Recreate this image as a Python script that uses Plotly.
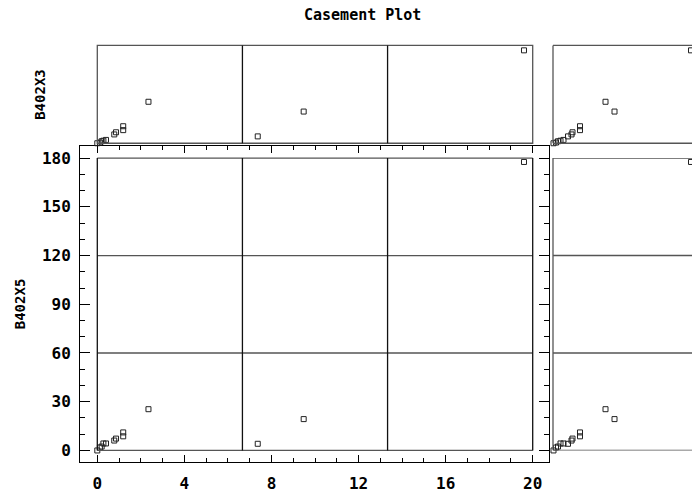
import plotly.graph_objects as go

# ---------------- data ----------------
x_values = [0.0, 0.12, 0.20, 0.28, 0.40, 0.78, 0.86, 1.19, 1.19, 2.35, 7.37, 9.48, 19.60]
b402x5 = [0.0, 1.8, 2.4, 4.3, 4.3, 6.1, 7.3, 11.1, 8.7, 25.4, 4.1, 19.3, 177.6]
b402x3 = [0.0, 0.35, 1.0, 1.3, 1.7, 4.5, 5.6, 8.7, 6.7, 21.2, 3.5, 16.2, 47.5]
x_right = [0.1, 0.6, 1.0, 1.5, 2.1, 3.7, 3.9, 5.4, 5.4, 10.5, 3.0, 12.3, 27.6]

x_ticks = [0, 4, 8, 12, 16, 20]
y_ticks = [0, 30, 60, 90, 120, 150, 180]
x_frame = (0, 20)
y_frame = (0, 180)
top_frame = (0, 50)
right_frame = (0, 27.8)
n_cells = 3

title_text = "Casement Plot"
row_labels = ["B402X3", "B402X5"]

# ---------------- layout helpers ----------------
W, H = 692, 493


def px_x(a, b):
    return [a / W, b / W]


def px_y(top, bottom):
    return [(H - bottom) / H, (H - top) / H]


FONT = "DejaVu Sans Mono"
frame_col = "#555555"
div_col = "#111111"

marker = dict(symbol="square-open", size=5, color="#222222", line=dict(width=1, color="#222222"))

fig = go.Figure()
fig.add_trace(go.Scatter(x=x_values, y=b402x5, mode="markers", marker=marker,
                         xaxis="x", yaxis="y", cliponaxis=False))
fig.add_trace(go.Scatter(x=x_values, y=b402x3, mode="markers", marker=marker,
                         xaxis="x2", yaxis="y2", cliponaxis=False))
fig.add_trace(go.Scatter(x=x_right, y=b402x5, mode="markers", marker=marker,
                         xaxis="x3", yaxis="y3", cliponaxis=False))
fig.add_trace(go.Scatter(x=x_right, y=b402x3, mode="markers", marker=marker,
                         xaxis="x4", yaxis="y4", cliponaxis=False))

hidden = dict(showticklabels=False, showgrid=False, zeroline=False, showline=False, ticks="")

# x scale: 21.77 px per unit, 0 at px 97.3 ; y scale: 1.6444 px per unit, 0 at px 456
xs, x0p = 21.77, 97.3
ys, y0p = 1.6444, 456.0
box_l, box_r, box_t, box_b = 80, 549, 148.3, 467.3

fig.update_layout(
    width=W, height=H,
    margin=dict(l=0, r=0, t=0, b=0),
    paper_bgcolor="white", plot_bgcolor="white",
    showlegend=False,
    xaxis=dict(
        domain=px_x(box_l, box_r),
        range=[(box_l - x0p) / xs, (box_r - x0p) / xs],
        anchor="y",
        tickvals=x_ticks, ticktext=[str(v) for v in x_ticks],
        ticks="inside", ticklen=7, tickwidth=1, tickcolor="black",
        minor=dict(dtick=1, ticks="inside", ticklen=4, tickwidth=1, tickcolor="black"),
        showline=True, linecolor="black", linewidth=1, mirror="ticks",
        showgrid=False, zeroline=False,
        tickfont=dict(family=FONT, size=16, color="black", weight="bold"),
        ticklabelstandoff=7,
    ),
    yaxis=dict(
        domain=px_y(box_t, box_b),
        range=[(y0p - box_b) / ys, (y0p - box_t) / ys],
        anchor="x",
        tickvals=y_ticks, ticktext=[str(v) for v in y_ticks],
        ticks="inside", ticklen=10, tickwidth=1, tickcolor="black",
        minor=dict(dtick=10, ticks="inside", ticklen=5, tickwidth=1, tickcolor="black"),
        showline=True, linecolor="black", linewidth=1, mirror="ticks",
        showgrid=False, zeroline=False,
        tickfont=dict(family=FONT, size=16, color="black", weight="bold"),
        ticklabelstandoff=5,
    ),
    xaxis2=dict(domain=px_x(x0p, x0p + xs * x_frame[1]), range=list(x_frame), anchor="y2", **hidden),
    yaxis2=dict(domain=px_y(46, 145), range=list(top_frame), anchor="x2", **hidden),
    xaxis3=dict(domain=[553 / W, 1.0], range=list(right_frame), anchor="y3", **hidden),
    yaxis3=dict(domain=px_y(y0p - ys * y_frame[1], y0p), range=list(y_frame), anchor="x3", **hidden),
    xaxis4=dict(domain=[553 / W, 1.0], range=list(right_frame), anchor="y4", **hidden),
    yaxis4=dict(domain=px_y(46, 145), range=list(top_frame), anchor="x4", **hidden),
)

shapes = []
lw = 1.3
xdiv = [x_frame[0] + i * (x_frame[1] - x_frame[0]) / n_cells for i in range(n_cells + 1)]
ydiv = [y_frame[0] + i * (y_frame[1] - y_frame[0]) / n_cells for i in range(n_cells + 1)]

# main panel casement grid
for yv in ydiv:
    shapes.append(dict(type="line", xref="x", yref="y", x0=x_frame[0], x1=x_frame[1], y0=yv, y1=yv,
                       line=dict(color=frame_col, width=lw)))
for xv in xdiv:
    shapes.append(dict(type="line", xref="x", yref="y", x0=xv, x1=xv, y0=y_frame[0], y1=y_frame[1],
                       line=dict(color=div_col, width=lw)))

# top panel frame + vertical dividers
shapes.append(dict(type="rect", xref="x2 domain", yref="y2 domain", x0=0, x1=1, y0=0, y1=1,
                   line=dict(color=frame_col, width=lw)))
for xv in xdiv[1:-1]:
    shapes.append(dict(type="line", xref="x2", yref="y2 domain", x0=xv, x1=xv, y0=0, y1=1,
                       line=dict(color=div_col, width=lw)))

# right main panel
for yv in ydiv:
    shapes.append(dict(type="line", xref="x3 domain", yref="y3", x0=0, x1=1, y0=yv, y1=yv,
                       line=dict(color=frame_col, width=lw)))
shapes.append(dict(type="line", xref="x3 domain", yref="y3", x0=0, x1=0, y0=y_frame[0], y1=y_frame[1],
                   line=dict(color=frame_col, width=lw)))

# top-right panel
for yv in (0, 1):
    shapes.append(dict(type="line", xref="x4 domain", yref="y4 domain", x0=0, x1=1, y0=yv, y1=yv,
                       line=dict(color=frame_col, width=lw)))
shapes.append(dict(type="line", xref="x4 domain", yref="y4 domain", x0=0, x1=0, y0=0, y1=1,
                   line=dict(color=frame_col, width=lw)))

fig.update_layout(shapes=shapes)

annotations = [
    dict(text=title_text, xref="paper", yref="paper", x=363 / W, y=(H - 15) / H,
         showarrow=False, xanchor="center", yanchor="middle",
         font=dict(family=FONT, size=15, color="black", weight="bold")),
    dict(text=row_labels[0], xref="paper", yref="paper", x=40 / W, y=(H - 96) / H,
         showarrow=False, textangle=-90, xanchor="center", yanchor="middle",
         font=dict(family=FONT, size=14, color="black", weight="bold")),
    dict(text=row_labels[1], xref="paper", yref="paper", x=20 / W, y=(H - 308) / H,
         showarrow=False, textangle=-90, xanchor="center", yanchor="middle",
         font=dict(family=FONT, size=14, color="black", weight="bold")),
]
fig.update_layout(annotations=annotations)

fig.write_html(
    "out.html",
    config={"displayModeBar": False},
    post_script="document.body.style.margin='0';document.body.style.overflow='hidden';",
)
